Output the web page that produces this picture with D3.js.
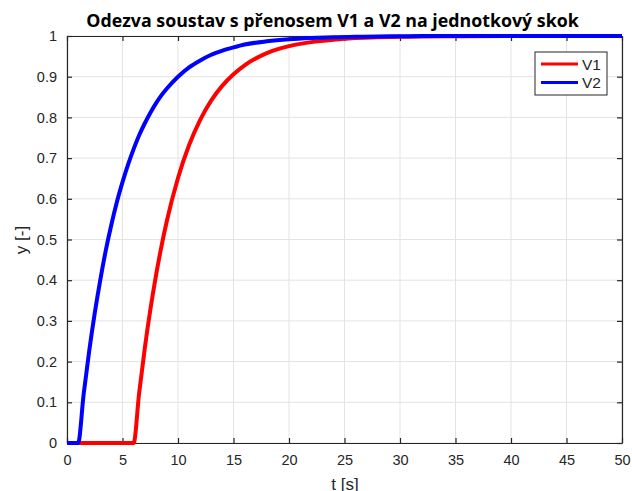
<!DOCTYPE html>
<html>
<head>
<meta charset="utf-8">
<script src="https://cdn.jsdelivr.net/npm/d3@7"></script>
<style>
  body { margin: 0; background: #fff; }
  text { font-family: "Liberation Sans", Arial, sans-serif; fill: #262626; }
</style>
</head>
<body>
<script>
// Data
let time = [0, 1, 1.5, 2, 2.5, 3, 3.5, 4, 4.5, 5, 5.5, 6, 6.5, 7, 7.5, 8, 8.5, 9, 10, 11, 12, 13, 14, 15, 16, 18, 20, 22, 24, 26, 28, 30, 32, 35, 40, 45, 50]
let v1 = [0, 0, 0, 0, 0, 0, 0, 0, 0, 0, 0, 0, 0.123, 0.231, 0.326, 0.409, 0.482, 0.546, 0.651, 0.732, 0.794, 0.842, 0.878, 0.906, 0.928, 0.958, 0.975, 0.985, 0.991, 0.995, 0.997, 0.998, 0.999, 0.9995, 1, 1, 1]
let v2 = [0, 0, 0.12, 0.226, 0.319, 0.401, 0.474, 0.537, 0.593, 0.641, 0.684, 0.722, 0.756, 0.785, 0.811, 0.834, 0.854, 0.871, 0.9, 0.923, 0.94, 0.954, 0.964, 0.972, 0.979, 0.987, 0.992, 0.995, 0.997, 0.998, 0.999, 0.9994, 1, 1, 1, 1, 1]
let xTicks = [0, 5, 10, 15, 20, 25, 30, 35, 40, 45, 50]
let yTicks = [0, 0.1, 0.2, 0.3, 0.4, 0.5, 0.6, 0.7, 0.8, 0.9, 1]
let seriesNames = ["V1", "V2"]
let seriesColors = ["#ff0000", "#0000ff"]

let svgWidth = 632
let svgHeight = 491

var margin = { top: 36, right: 10, bottom: 48, left: 67 };

let width = 622 - margin.left;
let height = 443 - margin.top;

let svg = d3.select("body")
  .append("svg")
  .attr("width", svgWidth)
  .attr("height", svgHeight)

let chartGroup = svg.append("g")
  .attr("transform", `translate(${margin.left}, ${margin.top})`)

let x = d3.scaleLinear().domain([0, 50]).range([0, width]);
let y = d3.scaleLinear().domain([0, 1]).range([height, 0]);

// grid
chartGroup.append("g")
  .selectAll("line.gx")
  .data(xTicks)
  .enter().append("line")
  .attr("x1", d => x(d)).attr("x2", d => x(d))
  .attr("y1", 0).attr("y2", height)
  .attr("stroke", "#e3e3e3").attr("stroke-width", 1);

chartGroup.append("g")
  .selectAll("line.gy")
  .data(yTicks)
  .enter().append("line")
  .attr("x1", 0).attr("x2", width)
  .attr("y1", d => y(d)).attr("y2", d => y(d))
  .attr("stroke", "#e3e3e3").attr("stroke-width", 1);

// axes
let bottomAxis = d3.axisBottom(x).tickValues(xTicks).tickSizeInner(-5).tickSizeOuter(0).tickPadding(12);
let leftAxis = d3.axisLeft(y).tickValues(yTicks).tickSizeInner(-5).tickSizeOuter(0).tickPadding(10).tickFormat(d3.format("~g"));
let topAxis = d3.axisTop(x).tickValues(xTicks).tickSizeInner(-5).tickSizeOuter(0).tickFormat("");
let rightAxis = d3.axisRight(y).tickValues(yTicks).tickSizeInner(-5).tickSizeOuter(0).tickFormat("");

chartGroup.append("g").attr("class", "axis")
  .attr("transform", `translate(0, ${height})`)
  .call(bottomAxis);
chartGroup.append("g").attr("class", "axis")
  .call(leftAxis);
chartGroup.append("g").attr("class", "axis")
  .call(topAxis);
chartGroup.append("g").attr("class", "axis")
  .attr("transform", `translate(${width}, 0)`)
  .call(rightAxis);

chartGroup.selectAll(".axis path, .axis line").attr("stroke", "#262626").attr("stroke-width", 1.2);
chartGroup.selectAll(".axis text").attr("font-size", 14.5).attr("fill", "#262626");

// lines
let line = d3.line().x((d, i) => x(time[i])).y(d => y(d)).curve(d3.curveMonotoneX);
[v1, v2].forEach(function(series, k) {
  chartGroup.append("path")
    .datum(series)
    .attr("d", line)
    .attr("fill", "none")
    .attr("stroke", seriesColors[k])
    .attr("stroke-width", 4)
    .attr("stroke-linejoin", "round");
});

// legend
let legend = svg.append("g").attr("transform", "translate(535, 52)")
legend.append("rect")
  .attr("width", 72).attr("height", 43)
  .attr("fill", "#fff").attr("stroke", "#262626").attr("stroke-width", 1);
seriesNames.forEach(function(name, k) {
  legend.append("line")
    .attr("x1", 6).attr("x2", 43)
    .attr("y1", 12 + k * 18.5).attr("y2", 12 + k * 18.5)
    .attr("stroke", seriesColors[k]).attr("stroke-width", 3);
  legend.append("text")
    .attr("x", 47).attr("y", 12 + k * 18.5 + 5.5)
    .attr("font-size", 15.5)
    .text(name);
});

// title and labels
svg.append("text")
  .attr("x", 332.5).attr("y", 27)
  .attr("text-anchor", "middle")
  .style("font-family", "'Open Sans', sans-serif")
  .style("font-weight", "bold")
  .style("font-size", "17.8px")
  .style("fill", "#000")
  .text("Odezva soustav s přenosem V1 a V2 na jednotkový skok");

svg.append("text")
  .attr("x", 345).attr("y", 490)
  .attr("text-anchor", "middle")
  .attr("font-size", 17)
  .text("t [s]");

svg.append("text")
  .attr("transform", "rotate(-90)")
  .attr("x", -240).attr("y", 27)
  .attr("text-anchor", "middle")
  .attr("font-size", 17)
  .text("y [-]");
</script>
</body>
</html>
